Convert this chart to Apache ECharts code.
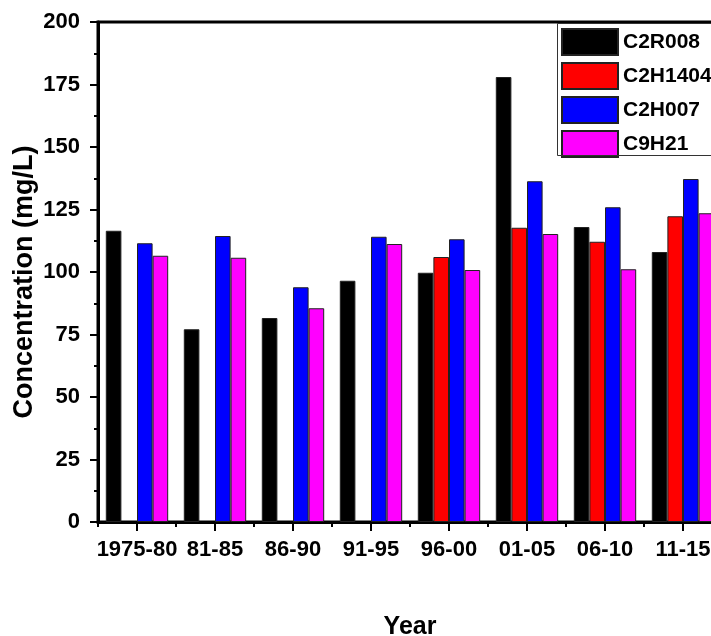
<!DOCTYPE html>
<html>
<head>
<meta charset="utf-8">
<script src="https://cdn.jsdelivr.net/npm/echarts@6/dist/echarts.min.js"></script>
<style>
html,body{margin:0;padding:0;background:#fff;}
#chart{width:711px;height:636px;}
</style>
</head>
<body>
<div id="chart"></div>
<script>
const categories = ['1975-80', '81-85', '86-90', '91-95', '96-00', '01-05', '06-10', '11-15'];
const seriesNames = ['C2R008', 'C2H1404', 'C2H007', 'C9H21'];
const c2r008 = [116.5, 77.1, 81.6, 96.5, 99.7, 178.0, 118.0, 108.0];
const c2h1404 = [null, null, null, null, 106.0, 117.7, 112.1, 122.3];
const c2h007 = [111.5, 114.4, 93.9, 114.1, 113.1, 136.3, 125.9, 137.2];
const c9h21 = [106.5, 105.7, 85.5, 111.2, 100.8, 115.2, 101.1, 123.5];
const yTicks = [0, 25, 50, 75, 100, 125, 150, 175, 200];
const yTitle = 'Concentration (mg/L)';
const xTitle = 'Year';

const colors = ['#000000', '#ff0000', '#0000ff', '#ff00ff'];
const seriesValues = [c2r008, c2h1404, c2h007, c9h21];
const FONT = 'Liberation Sans';

const gridBox = { left: 98, top: 22, width: 624, height: 500, containLabel: false, outerBoundsMode: 'none' };

const chart = echarts.init(document.getElementById('chart'));
chart.setOption({
  animation: false,
  backgroundColor: '#fff',
  textStyle: { fontFamily: FONT },
  grid: [
    Object.assign({ show: true, borderColor: '#000', borderWidth: 3, backgroundColor: 'transparent' }, gridBox),
    Object.assign({ show: false }, gridBox)
  ],
  graphic: [{
    type: 'text',
    x: 25, y: 282,
    rotation: Math.PI / 2,
    style: {
      text: yTitle,
      fontFamily: FONT, fontWeight: 'bold', fontSize: 27, fill: '#000',
      textAlign: 'center', textVerticalAlign: 'middle'
    }
  }, {
    type: 'rect',
    shape: { x: 557.5, y: 23.5, width: 220, height: 132 },
    style: { fill: 'none', stroke: '#333', lineWidth: 1 },
    z: 10
  }],
  legend: {
    orient: 'vertical',
    left: 557, top: 23,
    itemWidth: 56, itemHeight: 26, itemGap: 6,
    padding: [5, 4, 4, 4],
    borderWidth: 0,
    icon: 'rect',
    textStyle: { fontFamily: FONT, fontWeight: 'bold', fontSize: 21, color: '#000' },
    data: seriesNames
  },
  xAxis: [{
    type: 'category',
    gridIndex: 0,
    data: categories,
    position: 'bottom',
    name: xTitle,
    nameLocation: 'middle',
    nameGap: 93,
    nameTextStyle: { fontFamily: FONT, fontWeight: 'bold', fontSize: 25, color: '#000' },
    axisLine: { show: true, lineStyle: { color: '#000', width: 3 } },
    axisTick: { show: true, alignWithLabel: true, length: 9, lineStyle: { color: '#000', width: 2 } },
    axisLabel: { fontFamily: FONT, fontWeight: 'bold', fontSize: 22, color: '#000', margin: 17, interval: 0 },
    splitLine: { show: false }
  }, {
    type: 'category',
    gridIndex: 1,
    data: categories,
    position: 'bottom',
    axisLine: { show: false },
    axisTick: { show: true, length: 5, lineStyle: { color: '#000', width: 2 } },
    axisLabel: { show: false },
    splitLine: { show: false }
  }],
  yAxis: [{
    type: 'value',
    gridIndex: 0,
    min: yTicks[0], max: yTicks[yTicks.length - 1], interval: 25,
    axisLine: { show: true, lineStyle: { color: '#000', width: 3 } },
    axisTick: { show: true, length: 8, lineStyle: { color: '#000', width: 2 } },
    minorTick: { show: true, splitNumber: 2, length: 4, lineStyle: { color: '#000', width: 2 } },
    axisLabel: { fontFamily: FONT, fontWeight: 'bold', fontSize: 22, color: '#000', margin: 18 },
    splitLine: { show: false }
  }, {
    type: 'value',
    gridIndex: 1,
    min: yTicks[0], max: yTicks[yTicks.length - 1], interval: 25,
    show: false
  }],
  series: seriesNames.map((name, i) => ({
    name: name,
    type: 'bar',
    xAxisIndex: 0,
    yAxisIndex: 0,
    data: seriesValues[i],
    barGap: '0%',
    barCategoryGap: '20%',
    itemStyle: { color: colors[i], borderColor: '#222', borderWidth: 1 }
  }))
});
</script>
</body>
</html>
